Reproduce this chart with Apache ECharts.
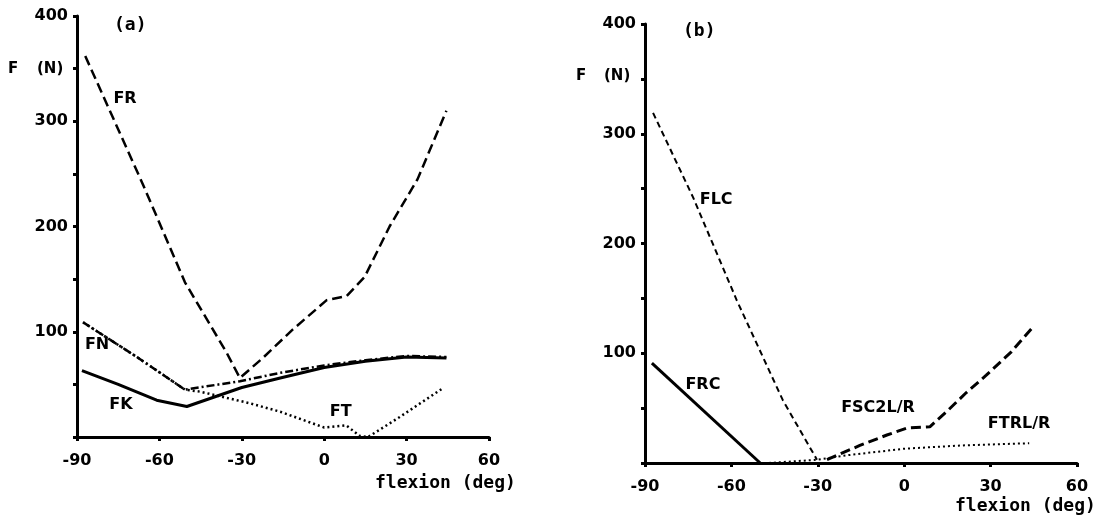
<!DOCTYPE html>
<html>
<head>
<meta charset="utf-8">
<script src="https://cdn.jsdelivr.net/npm/echarts@6/dist/echarts.min.js"></script>
<style>
  html, body { margin: 0; padding: 0; background: #fff; }
  #main { width: 1107px; height: 526px; }
</style>
</head>
<body>
<div id="main"></div>
<script>
// flexion angle (deg) vs force (N)
var xTicks = [-90, -60, -30, 0, 30, 60];
var yTicks = [0, 100, 200, 300, 400];

// panel (a)
var frA = [[-87, 362], [-66, 240], [-50.7, 147], [-35.5, 80], [-30.7, 56], [-22.4, 75], [-11.5, 102], [0.9, 130], [8.2, 134], [14.7, 152], [23.8, 200], [34, 245], [44.5, 310]];
var fnA = [[-87.8, 109], [-68.2, 76], [-50.7, 45], [-30.7, 53], [-16, 61], [0, 68], [15, 73], [30, 77], [44.5, 76]];
var ftA = [[-87.8, 109], [-68.2, 76], [-50.7, 45], [-45, 43], [-27, 32], [-16, 24], [0, 9], [8, 11], [13, 1], [16, 0], [27.5, 19], [43, 46]];
var fkA = [[-88.2, 63], [-75, 50], [-61, 35], [-50, 29], [-30, 47], [-16, 56], [0, 66], [15, 72], [30, 76], [44.5, 75]];

// panel (b)
var flcB = [[-87.2, 319], [-73.3, 242], [-58.1, 148], [-42.1, 57], [-30.3, 3]];
var frcB = [[-87.6, 91], [-50, 0]];
var fscB = [[-26.8, 3], [-15.4, 16], [-6, 25.5], [1.2, 32], [8.9, 33], [14.6, 46.5], [21.5, 64], [28.5, 80], [37.1, 101], [44.4, 123]];
var ftrB = [[-47, 0], [-30, 3], [-20, 7], [0, 13], [20, 16], [43.4, 18]];

// curve labels [x, y, text]
var labelsA = [[-72.5, 321, 'FR'], [-82.7, 88, 'FN'], [-74, 31, 'FK'], [6, 24, 'FT']];
var labelsB = [[-65.3, 240, 'FLC'], [-69.9, 71, 'FRC'], [-9.1, 50, 'FSC2L/R'], [39.9, 36, 'FTRL/R']];

var chart = echarts.init(document.getElementById('main'));

var tickFont = { fontFamily: 'DejaVu Sans', fontWeight: 'bold', fontSize: 16, color: '#000' };

function xAx(gi) {
  return {
    type: 'value', gridIndex: gi, min: -90, max: 60, interval: 30,
    axisLine: { show: true, onZero: false, lineStyle: { color: '#000', width: 3 } },
    axisTick: { show: true, length: 4, lineStyle: { color: '#000', width: 3 } },
    axisLabel: Object.assign({ margin: 16, formatter: function (v) { return String(v); } }, tickFont),
    splitLine: { show: false }
  };
}
function yAx(gi) {
  return {
    type: 'value', gridIndex: gi, min: 0, max: 400, interval: 50,
    axisLine: { show: true, onZero: false, lineStyle: { color: '#000', width: 3 } },
    axisTick: { show: true, length: 4, lineStyle: { color: '#000', width: 3 } },
    axisLabel: Object.assign({
      margin: 9,
      formatter: function (v) { return (v !== 0 && yTicks.indexOf(v) >= 0) ? String(v) : ''; }
    }, tickFont),
    splitLine: { show: false }
  };
}
function line(gi, data, width, type) {
  return {
    type: 'line', xAxisIndex: gi, yAxisIndex: gi, data: data,
    showSymbol: false, symbol: 'none', smooth: false,
    lineStyle: { color: '#000', width: width, type: type, cap: 'butt' },
    z: 3
  };
}
function txt(id, left, top, s, font) {
  return { id: id, type: 'text', left: left, top: top, style: { text: s, font: font, fill: '#000' } };
}

var bold15 = 'bold 15px "DejaVu Sans"';
var bold16 = 'bold 16px "DejaVu Sans"';
var mono = 'bold 18px "DejaVu Sans Mono"';

chart.setOption({
  backgroundColor: '#fff',
  animation: false,
  grid: [
    { left: 77, top: 16, width: 412, height: 421 },
    { left: 645, top: 24, width: 432, height: 439 }
  ],
  xAxis: [xAx(0), xAx(1)],
  yAxis: [yAx(0), yAx(1)],
  graphic: [
    txt('fa', 8, 62, 'F', bold15),
    txt('na', 37, 62, '(N)', bold15),
    txt('pa', 114, 16, '(a)', mono),
    txt('xa', 375, 474, 'flexion (deg)', mono),
    txt('fb', 576, 69, 'F', bold15),
    txt('nb', 604, 69, '(N)', bold15),
    txt('pb', 683, 22, '(b)', mono),
    txt('xb', 955, 497, 'flexion (deg)', mono)
  ],
  series: [
    line(0, frA, 2.5, [10, 5]),
    line(0, fnA, 2.5, [8, 3, 2, 3]),
    line(0, ftA, 2.5, [2, 3]),
    line(0, fkA, 3, 'solid'),
    line(1, flcB, 2, [6, 4]),
    line(1, frcB, 3, 'solid'),
    line(1, fscB, 3, [10, 5]),
    line(1, ftrB, 2, [2, 3])
  ]
});

// curve names placed through the axes' own scales
function tagText(gi, d, i) {
  var p = chart.convertToPixel({ gridIndex: gi }, [d[0], d[1]]);
  return {
    id: 'tag' + gi + '_' + i, type: 'text', x: p[0], y: p[1], z: 10,
    style: { text: d[2], font: bold16, fill: '#000', align: 'center', verticalAlign: 'middle' }
  };
}
var tagEls = labelsA.map(function (d, i) { return tagText(0, d, i); })
  .concat(labelsB.map(function (d, i) { return tagText(1, d, i); }));
chart.setOption({ graphic: tagEls });
</script>
</body>
</html>
